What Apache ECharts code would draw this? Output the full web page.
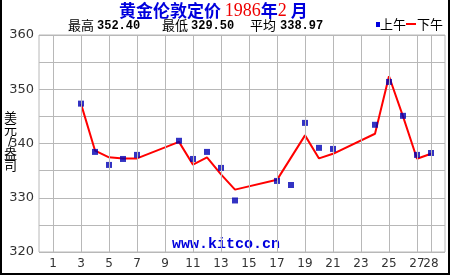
<!DOCTYPE html>
<html><head><meta charset="utf-8">
<script src="https://cdn.jsdelivr.net/npm/echarts@6/dist/echarts.min.js"></script>
<style>html,body{margin:0;padding:0;background:#fff}#c{width:450px;height:275px}</style>
</head><body><div id="c"></div>
<script>
const days = [3,4,5,6,7,10,11,12,13,14,17,18,19,20,21,24,25,26,27,28];
const amPrices = [347.35,338.45,336.05,337.15,337.90,340.50,337.15,338.45,335.50,329.50,333.10,332.35,343.80,339.20,339.00,343.45,351.35,345.10,337.90,338.25];
const pmPrices = [347.30,338.70,337.45,337.25,337.25,340.30,336.10,337.45,334.30,331.50,333.30,null,341.50,337.25,338.10,341.80,352.40,345.00,337.20,338.10];
const xTicks = [1,3,5,7,9,11,13,15,17,19,21,23,25,27,28];
const yTicks = [320,330,340,350,360];
const yMin = 320, yMax = 360, xMin = 0, xMax = 29;
const stats = {high:'352.40', low:'329.50', avg:'338.97'};

const chart = echarts.init(document.getElementById('c'), null, {renderer:'canvas'});
const amData = days.map((d,i)=>[d, amPrices[i]]);
const pmData = days.map((d,i)=>[d, pmPrices[i]]);
const gridColor = '#b8b8b8';
const cjk = 'Noto Sans CJK SC';
const vGrid = xTicks.map(v=>({xAxis:v}));
chart.setOption({
  animation:false,
  backgroundColor:'#fff',
  grid:{left:39, top:35, width:406, height:217, show:true, borderColor:gridColor, borderWidth:1},
  xAxis:{type:'value', min:xMin, max:xMax, interval:1,
    axisLine:{show:false},
    axisTick:{show:false},
    axisLabel:{color:'#333', fontSize:12, fontFamily:'DejaVu Sans', margin:6,
      formatter:v=> xTicks.indexOf(v)>=0 ? String(v) : ''},
    splitLine:{show:false}},
  yAxis:{type:'value', min:yMin, max:yMax, interval:5,
    axisLine:{show:false}, axisTick:{show:false},
    axisLabel:{color:'#333', fontSize:13, fontFamily:'DejaVu Sans', margin:5,
      formatter:v=> yTicks.indexOf(v)>=0 ? String(v) : ''},
    splitLine:{show:true, lineStyle:{color:gridColor, width:1}}},
  series:[
    {type:'scatter', data:[], z:1,
     markLine:{silent:true, animation:false, symbol:'none', precision:0,
       label:{show:false}, emphasis:{disabled:true},
       lineStyle:{color:gridColor, width:1, type:'solid', opacity:1},
       data:vGrid}},
    {type:'line', data:pmData, connectNulls:true, showSymbol:false, symbol:'none',
     lineStyle:{color:'#ff0000', width:2}, z:3},
    {type:'scatter', data:amData, symbol:'rect', symbolSize:6,
     itemStyle:{color:'#0000b4'}, z:4}
  ],
  graphic:[
    {type:'text', left:119, top:2, style:{
      text:'{b|黄金伦敦定价 }{r|1986}{b|年}{r|2}{b| 月}',
      rich:{
        b:{fill:'#0000dd', fontSize:17, fontWeight:'bold', fontFamily:cjk},
        r:{fill:'#ee0000', fontSize:18, fontFamily:'Liberation Serif'}
      }}},
    {type:'text', x:68, y:19, style:{text:'最高', fill:'#000', fontSize:13, fontFamily:cjk}},
    {type:'text', x:97, y:20, style:{text:stats.high, fill:'#000', fontSize:12, fontWeight:'bold', fontFamily:'Liberation Mono'}},
    {type:'text', x:162, y:19, style:{text:'最低', fill:'#000', fontSize:13, fontFamily:cjk}},
    {type:'text', x:191, y:20, style:{text:stats.low, fill:'#000', fontSize:12, fontWeight:'bold', fontFamily:'Liberation Mono'}},
    {type:'text', x:250, y:19, style:{text:'平均', fill:'#000', fontSize:13, fontFamily:cjk}},
    {type:'text', x:280, y:20, style:{text:stats.avg, fill:'#000', fontSize:12, fontWeight:'bold', fontFamily:'Liberation Mono'}},
    {type:'rect', shape:{x:376, y:22, width:4, height:5}, style:{fill:'#0000dd'}},
    {type:'text', x:380, y:18, style:{text:'上午', fill:'#000', fontSize:13, fontFamily:cjk}},
    {type:'rect', shape:{x:406, y:23, width:10, height:2}, style:{fill:'#ff0000'}},
    {type:'text', x:417, y:18, style:{text:'下午', fill:'#000', fontSize:13, fontFamily:cjk}},
    {type:'text', x:4, y:111, style:{text:'美', fill:'#000', fontSize:13, fontFamily:cjk}},
    {type:'text', x:4, y:123, style:{text:'元', fill:'#000', fontSize:13, fontFamily:cjk}},
    {type:'text', x:8, y:136, style:{text:'/', fill:'#000', fontSize:12, fontFamily:'DejaVu Sans'}},
    {type:'text', x:4, y:147, style:{text:'盎', fill:'#000', fontSize:13, fontFamily:cjk}},
    {type:'text', x:4, y:159, style:{text:'司', fill:'#000', fontSize:13, fontFamily:cjk}},
    {type:'text', x:172, y:237, style:{text:'www.kitco.cn', fill:'#0000dd', fontSize:15, fontWeight:'bold', fontFamily:'Liberation Mono'}},
    {type:'rect', shape:{x:0, y:0, width:2, height:275}, style:{fill:'#000'}},
    {type:'rect', shape:{x:448, y:0, width:2, height:275}, style:{fill:'#000'}},
    {type:'rect', shape:{x:0, y:273, width:450, height:2}, style:{fill:'#000'}}
  ]
});
</script></body></html>
